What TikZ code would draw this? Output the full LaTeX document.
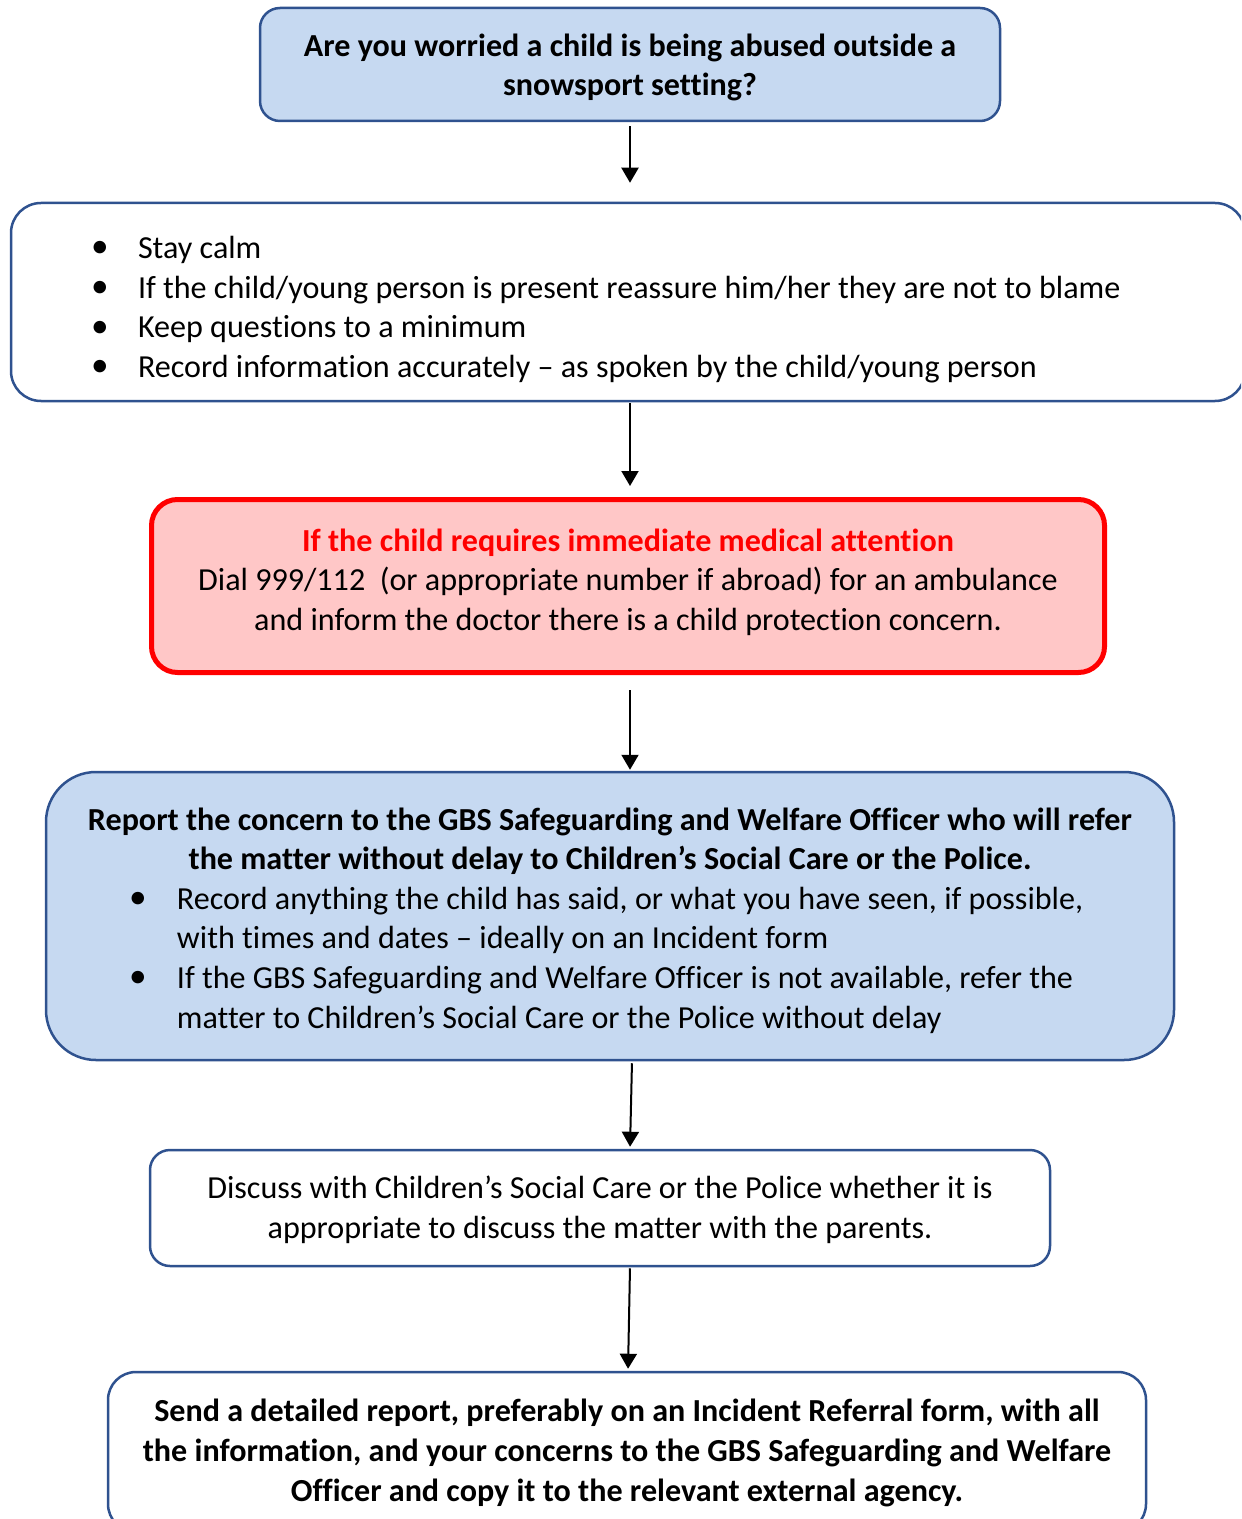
\documentclass[tikz,border=0pt]{standalone}
\usepackage{fontspec}
\setmainfont{Carlito}[Ligatures=NoCommon]
\usetikzlibrary{arrows.meta, positioning, calc}

\definecolor{boxblue}{HTML}{C6D9F1}
\definecolor{edgeblue}{HTML}{2F528F}
\definecolor{alertpink}{HTML}{FFC7C7}
\definecolor{alertred}{HTML}{FF0000}

\newcommand{\bodyfont}{\fontsize{16.05pt}{19.8pt}\selectfont}
% bullet line: #1 = space before bullet, #2 = text indent, #3 = text
\newcommand{\dotline}[3]{\par\noindent\hangindent=#2\hangafter=1\hspace*{#1}\makebox[\dimexpr#2-#1\relax][l]{\raisebox{0.02em}{\scalebox{1.1}{\textbullet}}}#3\par}

\begin{document}
\begin{tikzpicture}[x=0.5pt, y=-0.5pt, >={Triangle[length=7.5pt, width=8.5pt]}, font=\bodyfont]
        % Styles
        \tikzstyle{bluebox} = [draw=edgeblue, fill=boxblue, rectangle, rounded corners=10pt, line width=1.25pt, inner sep=0pt]
        \tikzstyle{whitebox} = [draw=edgeblue, fill=white, rectangle, rounded corners=10pt, line width=1.25pt, inner sep=0pt]
        \tikzstyle{alertbox} = [draw=alertred, fill=alertpink, rectangle, rounded corners=13pt, line width=2.5pt, inner sep=0pt]
        \tikzstyle{boxtext} = [inner sep=0pt, align=center]
        \tikzstyle{boldtext} = [boxtext, font=\bodyfont\bfseries]
        \tikzstyle{listtext} = [inner sep=0pt, align=flush left]
        \tikzstyle{arrow} = [->, line width=1pt, black]

        \useasboundingbox (0,0) rectangle (1241,1519);
        \clip (0,0) rectangle (1241,1519);

        % Boxes
        \node[bluebox, minimum width=370pt, minimum height=56.5pt] (worry) at (630,64.5) {};
        \node[whitebox, rounded corners=15pt, minimum width=617pt, minimum height=99pt] (calm) at (628,302) {};
        \node[alertbox, minimum width=476.5pt, minimum height=86.5pt] (medical) at (628,586) {};
        \node[bluebox, rounded corners=25pt, minimum width=564pt, minimum height=144pt] (report) at (610,916) {};
        \node[whitebox, minimum width=450pt, minimum height=58pt] (discuss) at (600,1208) {};
        \node[whitebox, rounded corners=14pt, minimum width=519pt, minimum height=80pt] (send) at (627,1452) {};

        % Texts
        \node[boldtext] (worrytext) at (630,67.5)
            {Are you worried a child is being abused outside a\\ snowsport setting?};
        \node[listtext, text width=537pt] (calmtext) at (628,301)
            {\dotline{0pt}{23.5pt}{Stay calm}%
             \dotline{0pt}{23.5pt}{If the child/young person is present reassure him/her they are not to blame}%
             \dotline{0pt}{23.5pt}{Keep questions to a minimum}%
             \dotline{0pt}{23.5pt}{Record information accurately – as spoken by the child/young person}};
        \node[boxtext] (medicaltext) at (628,582)
            {{\bfseries\color{alertred}If the child requires immediate medical attention}\\
             Dial 999/112\ \ (or appropriate number if abroad) for an ambulance\\
             and inform the doctor there is a child protection concern.};
        \node[listtext, text width=550pt] (reporttext) at (610,920.5)
            {{\centering\bfseries Report the concern to the GBS Safeguarding and Welfare Officer who will refer\\
              the matter without delay to Children’s Social Care or the Police.\par}%
             \dotline{34.5pt}{58.5pt}{Record anything the child has said, or what you have seen, if possible,\newline with times and dates – ideally on an Incident form}%
             \dotline{34.5pt}{58.5pt}{If the GBS Safeguarding and Welfare Officer is not available, refer the\newline matter to Children’s Social Care or the Police without delay}};
        \node[boxtext] (discusstext) at (600,1210)
            {Discuss with Children’s Social Care or the Police whether it is\\
             appropriate to discuss the matter with the parents.};
        \node[boldtext] (sendtext) at (627,1453)
            {Send a detailed report, preferably on an Incident Referral form, with all\\
             the information, and your concerns to the GBS Safeguarding and Welfare\\
             Officer and copy it to the relevant external agency.};

        % Paths
        \draw[arrow, shorten <=2pt, shorten >=9.5pt] (worry.south) -- (worry.south |- calm.north);
        \draw[arrow, shorten <=0.5pt, shorten >=5.5pt] (worry.south |- calm.south) -- (worry.south |- medical.north);
        \draw[arrow, shorten <=7.5pt, shorten >=0.5pt] (worry.south |- medical.south) -- (worry.south |- report.north);
        \draw[arrow, shorten <=1pt, shorten >=1pt] ($(worry.south |- report.south)+(2,0)$) -- (worry.south |- discuss.north);
        \draw[arrow, shorten <=0.5pt, shorten >=1pt] (worry.south |- discuss.south) -- ($(worry.south |- send.north)+(-2,0)$);
\end{tikzpicture}
\end{document}
